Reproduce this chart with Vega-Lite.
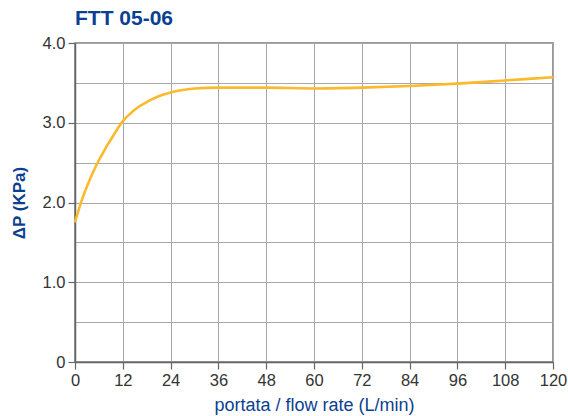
{
  "$schema": "https://vega.github.io/schema/vega-lite/v6.json",
  "width": 478,
  "height": 319,
  "autosize": {"type": "none"},
  "padding": {"left": 75, "top": 43, "right": 15, "bottom": 54},
  "background": "white",
  "title": {
    "text": "FTT 05-06",
    "anchor": "start",
    "frame": "group",
    "fontSize": 21,
    "fontWeight": "bold",
    "font": "Liberation Sans",
    "color": "#0b3f91",
    "offset": 6
  },
  "config": {
    "font": "Liberation Sans",
    "view": {"stroke": "#777777", "strokeWidth": 1.5},
    "axis": {
      "domainColor": "#666666",
      "domainWidth": 1.5,
      "gridColor": "#a8a8a8",
      "gridWidth": 1,
      "tickColor": "#666666",
      "tickWidth": 1.2,
      "tickSize": 7,
      "labelColor": "#333333",
      "labelFontSize": 16.5,
      "labelPadding": 3,
      "labelFlush": false,
      "titleColor": "#0b3f91",
      "titleFontSize": 17
    }
  },
  "data": {
    "values": [
      {"flow": 0, "dp": 1.75},
      {"flow": 1, "dp": 1.92},
      {"flow": 2, "dp": 2.07},
      {"flow": 3, "dp": 2.2},
      {"flow": 4, "dp": 2.32},
      {"flow": 5, "dp": 2.43},
      {"flow": 6, "dp": 2.53},
      {"flow": 7, "dp": 2.62},
      {"flow": 8, "dp": 2.71},
      {"flow": 9, "dp": 2.79},
      {"flow": 10, "dp": 2.87},
      {"flow": 11, "dp": 2.95},
      {"flow": 12, "dp": 3.02},
      {"flow": 14, "dp": 3.12},
      {"flow": 16, "dp": 3.2},
      {"flow": 18, "dp": 3.26},
      {"flow": 20, "dp": 3.31},
      {"flow": 22, "dp": 3.35},
      {"flow": 24, "dp": 3.38},
      {"flow": 27, "dp": 3.41},
      {"flow": 30, "dp": 3.43},
      {"flow": 36, "dp": 3.44},
      {"flow": 48, "dp": 3.44},
      {"flow": 60, "dp": 3.43},
      {"flow": 72, "dp": 3.44},
      {"flow": 84, "dp": 3.46},
      {"flow": 96, "dp": 3.49},
      {"flow": 108, "dp": 3.53},
      {"flow": 120, "dp": 3.57}
    ]
  },
  "mark": {"type": "line", "color": "#fbb92c", "strokeWidth": 2.6, "interpolate": "monotone"},
  "encoding": {
    "x": {
      "field": "flow",
      "type": "quantitative",
      "scale": {"domain": [0, 120], "nice": false},
      "axis": {
        "values": [0, 12, 24, 36, 48, 60, 72, 84, 96, 108, 120],
        "title": "portata / flow rate (L/min)",
        "titleFontWeight": "normal",
        "titleFontSize": 18,
        "titlePadding": 8
      }
    },
    "y": {
      "field": "dp",
      "type": "quantitative",
      "scale": {"domain": [0, 4], "nice": false},
      "axis": {
        "values": [0, 0.5, 1, 1.5, 2, 2.5, 3, 3.5, 4],
        "labelExpr": "datum.value % 1 !== 0 ? '' : (datum.value === 0 ? '0' : format(datum.value, '.1f'))",
        "tickOpacity": {"condition": {"test": "datum.value % 1 === 0", "value": 1}, "value": 0},
        "title": "ΔP (KPa)",
        "titleFontWeight": "bold",
        "titlePadding": 14
      }
    }
  }
}
